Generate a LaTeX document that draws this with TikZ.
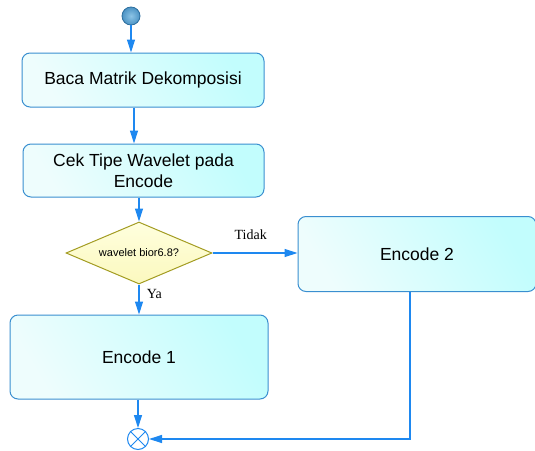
\documentclass[tikz,border=0pt]{standalone}
\usepackage{fontspec}
\setmainfont{Liberation Sans}
\newfontfamily\labelfont{Liberation Serif}
\usetikzlibrary{shapes.geometric,arrows.meta,calc}

\definecolor{flowblue}{HTML}{1E88F0}
\definecolor{boxedge}{HTML}{3A8FD0}
\definecolor{boxlight}{HTML}{EEFDFD}
\definecolor{boxdark}{HTML}{C2FDFD}
\definecolor{decedge}{HTML}{A39C22}
\definecolor{declight}{HTML}{FFFFDE}
\definecolor{decdark}{HTML}{FBF8BE}
\definecolor{startlight}{HTML}{8CC4E6}
\definecolor{startfill}{HTML}{4C93C4}
\definecolor{startedge}{HTML}{2C6E9E}

\tikzset{
  action/.style={draw=boxedge, line width=1pt, rounded corners=8pt,
    left color=boxlight, right color=boxdark, shading angle=120,
    align=center, inner sep=0pt,
    font=\fontsize{17.5}{21}\selectfont},
  decision/.style={diamond, aspect=2.35, draw=decedge, line width=1pt,
    top color=declight, bottom color=decdark, inner sep=0pt,
    minimum width=146pt, minimum height=62pt,
    font=\fontsize{11}{13}\selectfont},
  startdot/.style={circle, draw=startedge, line width=0.8pt,
    inner color=startlight, outer color=startfill,
    minimum size=18pt, inner sep=0pt},
  enddot/.style={circle, draw=flowblue, line width=1pt, fill=white,
    minimum size=21pt, inner sep=0pt},
  flow/.style={draw=flowblue, line width=1.2pt,
    -{Triangle[length=13pt,width=8pt]}},
  guard/.style={font=\labelfont\fontsize{14}{16}\selectfont}
}

\begin{document}
\begin{tikzpicture}[x=1pt,y=-1pt]
  \useasboundingbox (0,0) rectangle (535,450);

  % nodes
  \node[startdot] (start) at (131,16) {};
  \node[action, minimum width=242pt, minimum height=54pt] (baca) at (143,80) {Baca Matrik Dekomposisi};
  \node[action, minimum width=241pt, minimum height=53pt] (cek) at (143.5,170.5) {Cek Tipe Wavelet pada\\Encode};
  \node[decision] (dec) at (139,253) {wavelet bior6.8?};
  \node[action, minimum width=238pt, minimum height=75pt] (enc2) at (417,254) {Encode 2};
  \node[action, minimum width=258pt, minimum height=84pt] (enc1) at (139,357) {Encode 1};
  \node[enddot] (stop) at (138,439) {};
  \draw[flowblue, line width=1pt] (stop.north east) -- (stop.south west)
                                  (stop.north west) -- (stop.south east);
  \coordinate (bend) at (410,439);

  % connectors
  \draw[flow] (start.south) -- (start.south |- baca.north);
  \draw[flow] ([xshift=-9pt]baca.south) -- ([xshift=-9pt]baca.south |- cek.north);
  \draw[flow] (cek.south -| dec.north) -- (dec.north);
  \draw[flow] (dec.east) -- (dec.east -| enc2.west)
    node[guard, pos=0.45, above=9pt] {Tidak};
  \draw[flow] (dec.south) -- (dec.south |- enc1.north)
    node[guard, pos=0.32, right=4pt] {Ya};
  \draw[flow] (enc1.south -| stop.north) -- (stop.north);
  \draw[flow] (enc2.south -| bend) |- (stop.east);
\end{tikzpicture}
\end{document}
